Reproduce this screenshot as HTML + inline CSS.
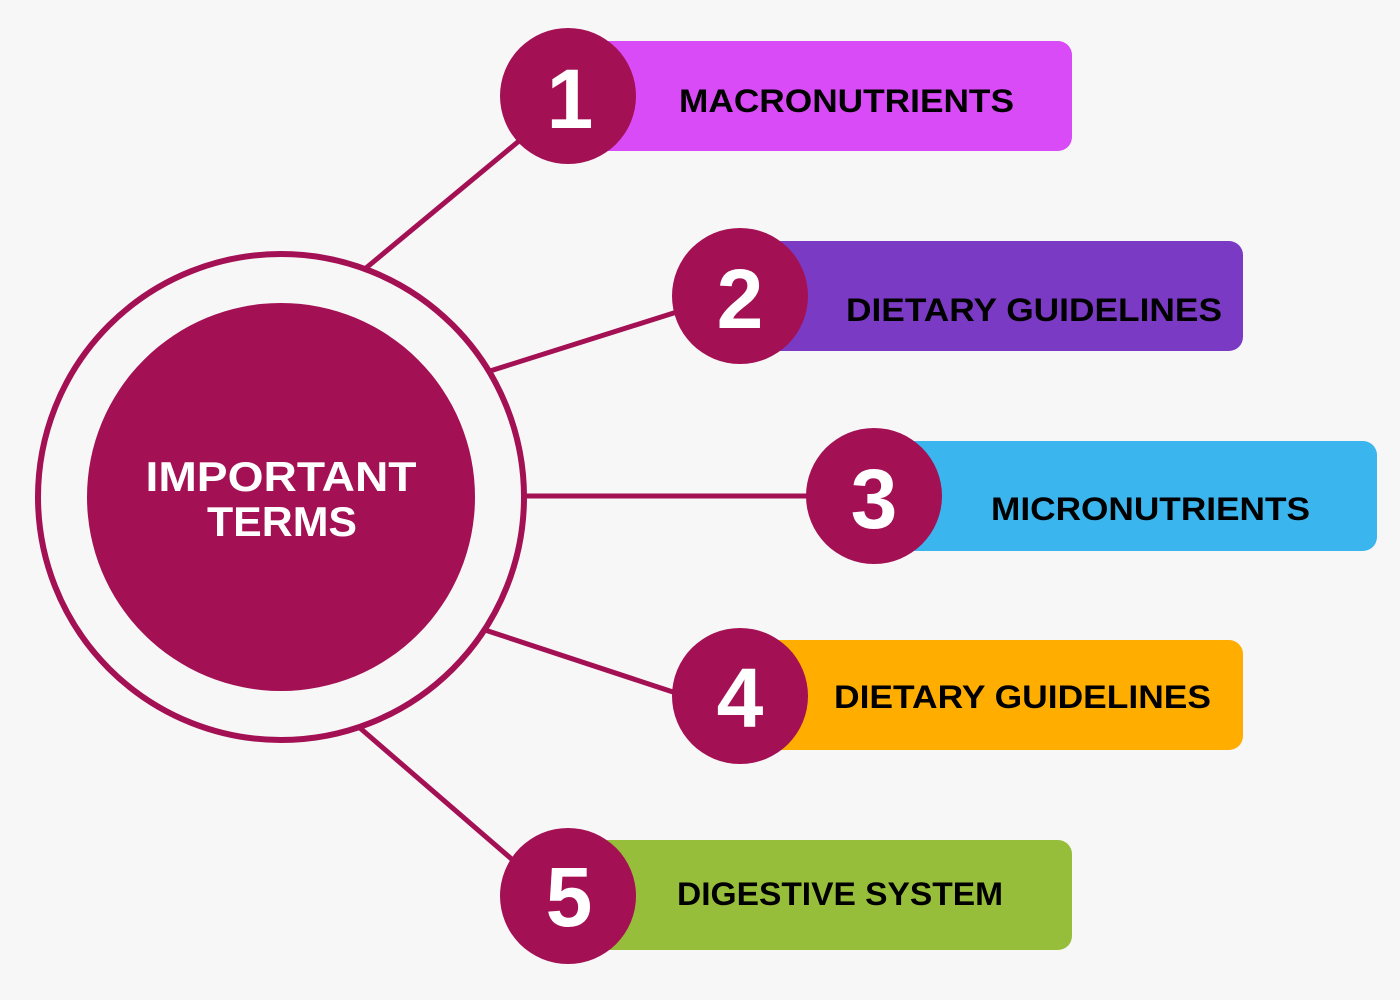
<!DOCTYPE html>
<html><head><meta charset="utf-8"><style>
html,body{margin:0;padding:0;background:#f7f7f7;}
svg{display:block;}
text{font-family:"Liberation Sans",sans-serif;font-weight:bold;}
</style></head><body>
<svg width="1400" height="1000" viewBox="0 0 1400 1000" xmlns="http://www.w3.org/2000/svg">
<rect width="1400" height="1000" fill="#f7f7f7"/>
<g stroke="#A31053" stroke-width="5" fill="none">
<line x1="366" y1="268" x2="525" y2="136"/>
<line x1="490" y1="371" x2="680" y2="311"/>
<line x1="524" y1="496" x2="812" y2="496"/>
<line x1="485" y1="630" x2="676" y2="693"/>
<line x1="360" y1="728" x2="515" y2="862"/>
<circle cx="281" cy="497" r="243" stroke-width="6"/>
</g>
<ellipse cx="281" cy="497" rx="194" ry="194" fill="#A31053"/>
<text x="281" y="491" fill="#fff" font-size="42" text-anchor="middle" textLength="271" lengthAdjust="spacingAndGlyphs">IMPORTANT</text>
<text x="282" y="536" fill="#fff" font-size="42" text-anchor="middle" textLength="150" lengthAdjust="spacingAndGlyphs">TERMS</text>

<rect x="590" y="41" width="482" height="110" rx="14" fill="#D84BF7"/>
<rect x="760" y="241" width="483" height="110" rx="14" fill="#7B3AC4"/>
<rect x="895" y="441" width="482" height="110" rx="14" fill="#3BB5EE"/>
<rect x="760" y="640" width="483" height="110" rx="14" fill="#FFAE00"/>
<rect x="590" y="840" width="482" height="110" rx="14" fill="#97BE3A"/>

<g fill="#A31053">
<circle cx="568" cy="96" r="68"/>
<circle cx="740" cy="296" r="68"/>
<circle cx="874" cy="496" r="68"/>
<circle cx="740" cy="696" r="68"/>
<circle cx="568" cy="896" r="68"/>
</g>
<g fill="#fff" font-size="84" text-anchor="middle">
<text x="570" y="128">1</text>
<text x="740" y="328">2</text>
<text x="874" y="528">3</text>
<text x="740" y="727">4</text>
<text x="569" y="926">5</text>
</g>
<g fill="#000" font-size="32">
<text x="679" y="112" textLength="335" lengthAdjust="spacingAndGlyphs">MACRONUTRIENTS</text>
<text x="846" y="321" textLength="376" lengthAdjust="spacingAndGlyphs">DIETARY GUIDELINES</text>
<text x="991" y="520" textLength="319" lengthAdjust="spacingAndGlyphs">MICRONUTRIENTS</text>
<text x="834" y="708" textLength="377" lengthAdjust="spacingAndGlyphs">DIETARY GUIDELINES</text>
<text x="677" y="905" textLength="326" lengthAdjust="spacingAndGlyphs">DIGESTIVE SYSTEM</text>
</g>
</svg>
</body></html>
